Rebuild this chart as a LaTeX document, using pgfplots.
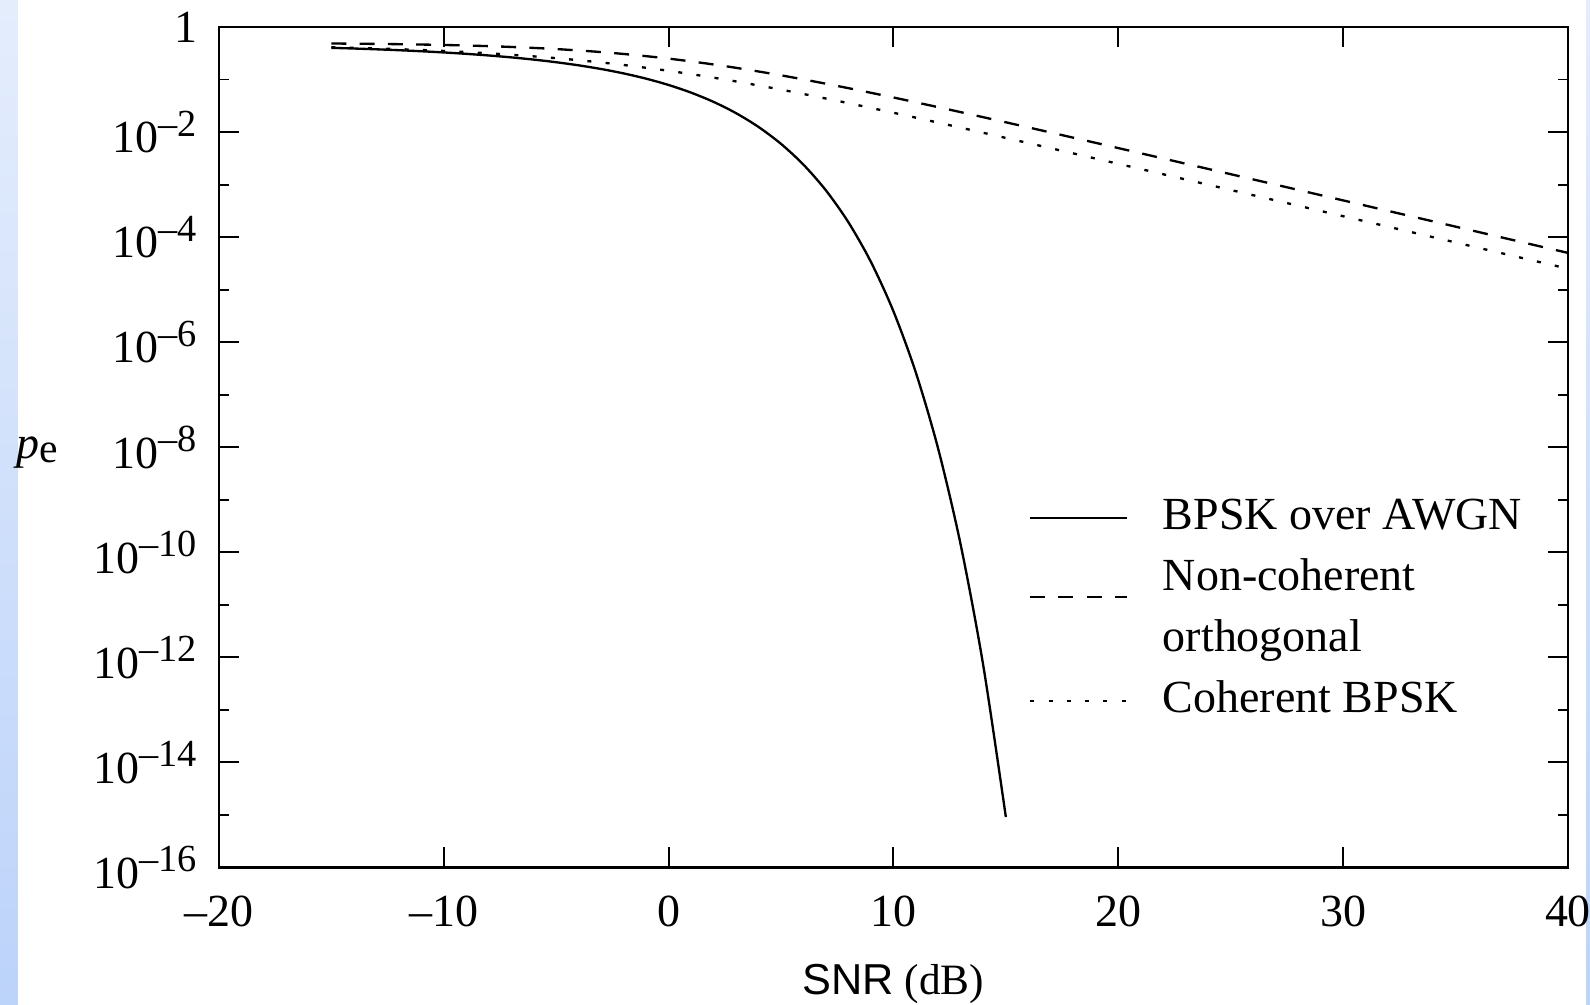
\documentclass[border=0pt]{standalone}
\usepackage{fontspec}
\setmainfont{Liberation Serif}
\setsansfont{Liberation Sans}
\usepackage{pgfplots}
\pgfplotsset{compat=1.18}
\definecolor{edgetop}{HTML}{E4EDFC}
\definecolor{edgebot}{HTML}{BCD3FA}
\newcommand{\ex}[1]{\raisebox{5pt}{\fontsize{11.5}{11.5}\selectfont\textendash#1}}
\newcommand{\lbl}{\fontsize{13.8}{17}\selectfont}
\pgfplotsset{
  legline/.style={legend image code/.code={\draw[##1] (0pt,0pt) -- (29pt,0pt);}},
  lowleg/.style={legend image code/.code={\draw[##1] (0pt,-5.4pt) -- (29pt,-5.4pt);}},
}

\begin{document}
\begin{tikzpicture}
\useasboundingbox (-65.7pt,-41.1pt) rectangle (411.6pt,260.4pt);
\shade[top color=edgetop, bottom color=edgebot] (-65.7pt,-41.1pt) rectangle (-60.3pt,260.4pt);
\shade[top color=edgetop, bottom color=edgebot] (410.4pt,-41.1pt) rectangle (411.6pt,260.4pt);
\begin{axis}[
  scale only axis,
  width=405pt, height=252.3pt,
  xmin=-20, xmax=40,
  ymode=log, ymin=1e-16, ymax=1,
  xtick={-20,-10,...,40},
  xticklabels={\textendash20,\textendash10,0,10,20,30,40},
  ytick={1e-16,1e-14,1e-12,1e-10,1e-8,1e-6,1e-4,1e-2,1},
  yticklabels={10\ex{16},10\ex{14},10\ex{12},10\ex{10},10\ex{8},10\ex{6},10\ex{4},10\ex{2},1},
  minor ytick={1e-15,1e-13,1e-11,1e-9,1e-7,1e-5,1e-3,1e-1},
  tick align=inside,
  major tick length=6pt, minor tick length=3pt,
  every tick/.style={black, line width=0.6pt},
  axis line style={line width=0.75pt},
  ticklabel style={font=\lbl},
  yticklabel style={xshift=-3pt},
  xticklabel style={yshift=-5pt},
  xlabel={{\sffamily SNR} (dB)},
  xlabel style={font=\fontsize{13}{15}\selectfont, yshift=-4.5pt},
  ylabel={\textit{p}\raisebox{-1.2pt}{\fontsize{12.5}{12.5}\selectfont e}},
  ylabel style={font=\lbl, rotate=-90, at={(rel axis cs:0,0.5)}, anchor=center, xshift=-54.6pt, yshift=-1.5pt},
  legend cell align=left,
  legline,
  legend style={draw=none, fill=none, font=\lbl, at={(0.6,0.307)}, anchor=west,
    inner sep=0pt, row sep=3.3pt,
    nodes={inner sep=1pt, text height=10pt, text depth=3pt},
    /tikz/every odd column/.append style={column sep=9.5pt}},
]
\addplot[black, line width=0.7pt, smooth] coordinates {
  (-15,0.40072) (-14,0.38891) (-13,0.37577) (-12,0.36121) (-11,0.34510)
  (-10,0.32736) (-9,0.30791) (-8,0.28671) (-7,0.26379) (-6,0.23923)
  (-5,0.21323) (-4,0.18611) (-3,0.15837) (-2,0.13065) (-1,0.10376)
  (0,0.078650) (1,0.056282) (2,0.037506) (3,0.022878) (4,0.012501)
  (5,0.0059539) (6,0.0023883) (7,7.7267e-4) (8,1.9091e-4) (9,3.3627e-5)
  (10,3.8721e-6) (11,2.6131e-7) (12,9.0060e-9) (13,1.3329e-10) (14,6.8102e-13)
  (15,9.1240e-16)
};
\addlegendentry{BPSK over AWGN}
\addplot[black, line width=0.7pt, smooth, dash pattern=on 4.5pt off 4pt, lowleg] coordinates {
  (-15,0.48467) (-12.5,0.47338) (-10,0.45455) (-7.5,0.42451) (-5,0.37987)
  (-2.5,0.32003) (0,0.25) (2.5,0.17997) (5,0.12013) (7.5,0.075490)
  (10,0.045455) (12.5,0.026620) (15,0.015327) (17.5,0.0087360) (20,0.0049505)
  (22.5,0.0027960) (25,0.0015762) (27.5,8.8756e-4) (30,4.995e-4) (32.5,2.8101e-4)
  (35,1.5806e-4) (37.5,8.8898e-5) (40,4.9995e-5)
};
\addlegendentry{Non-coherent}
\addlegendimage{empty legend}
\addlegendentry{orthogonal}
\addplot[black, line width=0.7pt, smooth, dash pattern=on 1.2pt off 4.3pt] coordinates {
  (-15,0.41246) (-12.5,0.38463) (-10,0.34925) (-7.5,0.30572) (-5,0.25492)
  (-2.5,0.20003) (0,0.14645) (2.5,0.09998) (5,0.064180) (7.5,0.039290)
  (10,0.023269) (12.5,0.013492) (15,0.0077230) (17.5,0.0043864) (20,0.0024813)
  (22.5,0.0014000) (25,7.8870e-4) (27.5,4.4398e-4) (30,2.4981e-4) (32.5,1.4059e-4)
  (35,7.9038e-5) (37.5,4.4457e-5) (40,2.4998e-5)
};
\addlegendentry{Coherent BPSK}
\end{axis}
\end{tikzpicture}
\end{document}
